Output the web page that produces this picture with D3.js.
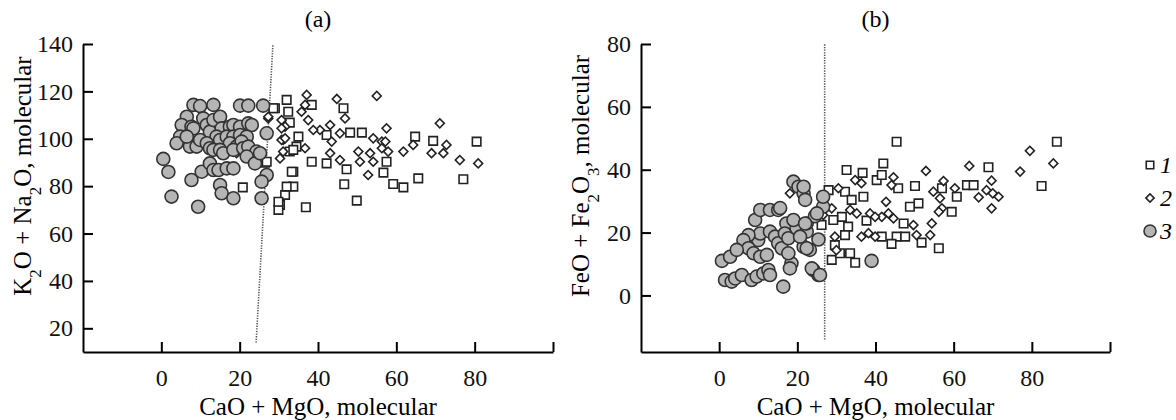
<!DOCTYPE html>
<html lang="en">
<head>
<meta charset="UTF-8">
<title>CaO + MgO diagrams</title>
<script src="https://d3js.org/d3.v7.min.js"></script>
<style>
  body { margin: 0; background: #fff; }
  svg { display: block; font-family: "Liberation Serif", "DejaVu Serif", serif; }
  .axis path, .axis line { stroke: #000; stroke-width: 2px; }
  .axis text { font-family: "Liberation Serif", serif; font-size: 24px; fill: #111; }
  .sq { fill: #fff; stroke: #222; stroke-width: 1.6px; }
  .di { fill: #fff; stroke: #222; stroke-width: 1.6px; }
  .ci { fill: #b5b5b5; stroke: #333; stroke-width: 1.6px; }
  .divider { stroke: #555; stroke-width: 1.6px; stroke-dasharray: 1.3 1.3; fill: none; }
</style>
</head>
<body>
<svg width="1176" height="420"></svg>
<script>
// ticks
const xTicks = [0, 20, 40, 60, 80, 100];
const yTicksA = [20, 40, 60, 80, 100, 120, 140];
const yTicksB = [0, 20, 40, 60, 80];

// panel (a): K2O + Na2O vs CaO + MgO  [x, y]
const aSquares = [
  [32, 116.4], [29, 112.9], [32.4, 111.4], [38.4, 114.3], [46.5, 112.9], [32.8, 106.8],
  [35, 100.9], [48.2, 102.6], [51.2, 102.6], [42.2, 101.6], [64.8, 100.9], [69.4, 99.1],
  [80.5, 98.8], [77.1, 82.9], [65.6, 83.3], [61.8, 79.5], [59.2, 80.9], [56.7, 85.7],
  [49.9, 73.9], [46.7, 80.8], [47.3, 87.1], [42.2, 89.6], [38.4, 90.3], [33.7, 86.1],
  [33.7, 79.8], [31.6, 76.3], [30.3, 72.1], [29.9, 70], [36.9, 71.1], [26.5, 89.9],
  [32.8, 94.6], [34.5, 96.7], [57.5, 90.3], [20.8, 79.5], [26.9, 90.3], [28.6, 112.9],
  [33.7, 95.3], [33.3, 86.1], [32, 79.8], [29.9, 73.4]
];
const aDiamonds = [
  [37.1, 118.5], [44.8, 116.8], [55, 118.1], [46.9, 108.6], [36.7, 114.3], [27.3, 108.6],
  [30.7, 107.9], [37.5, 107.9], [35.8, 111.4], [40.5, 103.7], [38.8, 103.7], [43.1, 105.8],
  [45.6, 102.3], [31.1, 99.5], [43.5, 98.8], [54.1, 100.2], [57.5, 104.4], [56.3, 98.8],
  [57.2, 98.8], [61.8, 94.6], [57.9, 94.6], [50.3, 94.6], [53.3, 93.9], [56.3, 96],
  [36.7, 96], [31.1, 94.6], [30.3, 91.7], [43.1, 93.9], [45.6, 91], [50.7, 90.3],
  [54.1, 90.3], [52.8, 84.7], [64.3, 97.4], [69, 93.9], [72, 93.9], [72.8, 97.4],
  [71.1, 106.5], [76.2, 91], [80.9, 89.6], [27.3, 109.3], [30.7, 99.5], [31.6, 105.1],
  [30.7, 104.4], [31.6, 100.2], [19.2, 93.9]
];
const aCircles = [
  [8.2, 114.3], [9.9, 113.8], [13.3, 114.3], [20.1, 114], [22.2, 114], [26, 114],
  [6.5, 109.3], [5.2, 105.8], [7.7, 105.1], [4.8, 100.9], [8.2, 104.4], [10.7, 108.6],
  [11.6, 105.8], [12.4, 103], [13.3, 107.9], [15, 109.3], [15.4, 104.4], [17.5, 105.1],
  [18.4, 105.8], [20.1, 105.1], [22.2, 106.5], [23.1, 105.8], [14.1, 100.9], [15, 99.5],
  [16.7, 100.9], [18.4, 100.9], [20.1, 101.6], [21.8, 100.9], [17.5, 98.1], [19.2, 96.7],
  [20.5, 98.8], [7.3, 96.7], [9, 96.7], [9.9, 99.5], [11.6, 98.1], [12.4, 96],
  [13.3, 95.3], [15, 95.3], [15.8, 93.9], [18.4, 95.3], [20.9, 96], [22.2, 96.7],
  [24.3, 94.6], [26.9, 102.3], [3.9, 98.1], [6.5, 100.9], [0.5, 91.5], [1.8, 86],
  [7.7, 82.6], [10.3, 86.1], [12.4, 89.6], [13.3, 86.8], [14.6, 86.8], [16.7, 87.5],
  [18.4, 87.5], [21.8, 92.5], [23.9, 89.6], [25.2, 93.9], [26.9, 84.7], [25.6, 81.9],
  [15, 80.5], [15.4, 77], [18.4, 74.9], [2.6, 75.6], [9.4, 71.3], [25.6, 74.9]
];

// panel (b): FeO + Fe2O3 vs CaO + MgO  [x, y]
const bSquares = [
  [45.4, 48.9], [86.4, 48.9], [42, 42], [32.6, 39.9], [36.7, 39], [40.3, 36.7],
  [41.6, 38.3], [45.8, 34.1], [50.1, 34.8], [68.9, 40.8], [82.5, 34.8], [63.4, 35.1],
  [65.1, 35.1], [60.8, 31.4], [57, 34.1], [59.5, 26.6], [28, 33.5], [32.2, 33],
  [36.9, 31.4], [33.9, 30.4], [51, 29.3], [48.8, 28.2], [31.4, 25], [26.2, 22.4],
  [33, 21.9], [37.7, 23.8], [47.2, 22.9], [32.2, 19.2], [41.6, 18.7], [45.4, 18.7],
  [47.6, 18.7], [51.8, 16.8], [44.1, 16.4], [56.2, 15], [29.2, 24], [29.6, 16],
  [28.8, 11.3], [30.9, 13.4], [33.5, 13.4], [34.8, 10.4]
];
const bDiamonds = [
  [79.5, 46], [85.5, 42], [77, 39.4], [64, 41.2], [52.9, 39.6], [34.8, 36.7],
  [36.4, 35.7], [44.6, 37.6], [44.1, 35.1], [57.4, 36.4], [69.7, 36.5], [68.4, 33.5],
  [70, 32.5], [71.5, 31.4], [66.4, 31.2], [69.7, 27.7], [54.8, 33], [56.5, 30.9],
  [60.3, 34.1], [57, 27.7], [56.2, 26.6], [42.7, 29.8], [54.4, 22.9], [49.7, 22.4],
  [54, 19.2], [50.5, 19.2], [44.6, 24.5], [43.3, 26.1], [41.6, 25], [38.6, 26.1],
  [39.9, 25], [35.2, 26.1], [33.5, 27.2], [36.4, 18.7], [38.2, 19.8], [39.9, 18.7],
  [30.5, 34.1], [28.8, 27.7], [26.6, 25.6], [29.6, 18.7], [30, 14.4], [18.1, 32.5]
];
const bCircles = [
  [0.7, 11], [2.8, 12.3], [1.5, 4.9], [3.2, 4.4], [4.1, 5.4], [5.8, 6.5],
  [8.3, 4.9], [9.6, 6], [11.3, 7], [12.6, 8.1], [13, 6.5], [10, 17.6],
  [10.5, 19.7], [7.5, 19.2], [6.2, 17.6], [7.5, 15], [8.8, 13.4], [10.5, 12.3],
  [4.5, 14.5], [9.2, 24], [10.5, 27.2], [13, 27.2], [15.1, 27.2], [13, 20.3],
  [14.3, 18.7], [15.1, 16.6], [16, 15], [17.2, 22.9], [16.8, 19.7], [17.7, 18.2],
  [19.8, 21.4], [18.5, 10.2], [18.1, 8.6], [16.4, 2.8], [17.7, 13.4], [21.6, 15.5],
  [23.2, 14.5], [22.4, 20.3], [20.7, 18.7], [24.1, 8.1], [25.4, 6.5], [25.4, 17.8],
  [19, 24], [22.4, 22.9], [24.5, 25.2], [26.6, 28.2], [39, 11], [12.2, 12.9],
  [19, 36.2], [20.3, 34.6], [21.6, 32.5], [22, 30.4], [26.6, 31.4], [15.6, 27.8],
  [21.6, 34.6], [25, 26.1], [22, 22.9], [22.4, 15], [23.7, 8.6], [25.8, 6.5]
];

// boundary lines [x, y] end points
const aBoundary = [[24.2, 14], [28.5, 140]];
const bBoundary = [[27, -14], [27, 80]];

const legendItems = ["1", "2", "3"];

const svg = d3.select("svg");

function panel(opts) {
  const x = d3.scaleLinear().domain([-20, 100]).range(opts.xRange);
  const y = d3.scaleLinear().domain(opts.yDomain).range([352, 44]);
  const g = svg.append("g");

  g.append("g").attr("class", "axis")
    .attr("transform", "translate(0,352)")
    .call(d3.axisBottom(x).tickValues(xTicks)
      .tickFormat(d => d === 100 ? "" : d)
      .tickSizeInner(-10).tickSizeOuter(0).tickPadding(17));

  g.append("g").attr("class", "axis")
    .attr("transform", `translate(${opts.xRange[0]},0)`)
    .call(d3.axisLeft(y).tickValues(opts.yTicks)
      .tickSizeInner(-10).tickSizeOuter(0).tickPadding(10));

  g.append("path").attr("class", "divider")
    .attr("d", d3.line().x(d => x(d[0])).y(d => y(d[1]))(opts.boundary));

  const sq = d3.symbol(d3.symbolSquare, 72);
  g.selectAll(".sq").data(opts.squares).join("path").attr("class", "sq")
    .attr("d", sq).attr("transform", d => `translate(${x(d[0])},${y(d[1])})`);

  const di = d3.symbol(d3.symbolSquare, 40);
  g.selectAll(".di").data(opts.diamonds).join("path").attr("class", "di")
    .attr("d", di).attr("transform", d => `translate(${x(d[0])},${y(d[1])}) rotate(45)`);

  g.selectAll(".ci").data(opts.circles).join("circle").attr("class", "ci")
    .attr("cx", d => x(d[0])).attr("cy", d => y(d[1])).attr("r", 6.5);

  const cx = (opts.xRange[0] + opts.xRange[1]) / 2;
  g.append("text").attr("x", cx).attr("y", 27).attr("text-anchor", "middle")
    .attr("font-size", 24).text(opts.title);

  g.append("text").attr("x", cx).attr("y", 415).attr("text-anchor", "middle")
    .attr("font-size", 25).text("CaO + MgO, molecular");

  const yl = g.append("text")
    .attr("transform", `translate(${opts.xRange[0] - 52},176) rotate(-90)`)
    .attr("text-anchor", "middle").attr("font-size", 25);
  opts.yLabel.forEach(p => {
    yl.append("tspan").attr("baseline-shift", p[1] ? "sub" : null)
      .attr("font-size", p[1] ? 17 : null).text(p[0]);
  });
}

panel({
  xRange: [83, 553], yDomain: [10, 140], yTicks: yTicksA, title: "(a)",
  squares: aSquares, diamonds: aDiamonds, circles: aCircles, boundary: aBoundary,
  yLabel: [["K", 0], ["2", 1], ["O + Na", 0], ["2", 1], ["O, molecular", 0]]
});
panel({
  xRange: [641, 1110], yDomain: [-18, 80], yTicks: yTicksB, title: "(b)",
  squares: bSquares, diamonds: bDiamonds, circles: bCircles, boundary: bBoundary,
  yLabel: [["FeO + Fe", 0], ["2", 1], ["O", 0], ["3", 1], [", molecular", 0]]
});

// legend
const lg = svg.append("g").attr("transform", "translate(1150,0)");
const ly = d3.scalePoint().domain(legendItems).range([165, 231]);
lg.append("path").attr("class", "sq").attr("d", d3.symbol(d3.symbolSquare, 56)())
  .attr("transform", `translate(0,${ly("1")})`);
lg.append("path").attr("class", "di").attr("d", d3.symbol(d3.symbolSquare, 34)())
  .attr("transform", `translate(0,${ly("2")}) rotate(45)`);
lg.append("circle").attr("class", "ci").attr("r", 6).attr("cy", ly("3"));
lg.selectAll(".lt").data(legendItems).join("text").attr("class", "lt")
  .attr("x", 10).attr("y", d => ly(d) + 8)
  .attr("font-size", 24).attr("font-style", "italic").text(d => d);
</script>
</body>
</html>
